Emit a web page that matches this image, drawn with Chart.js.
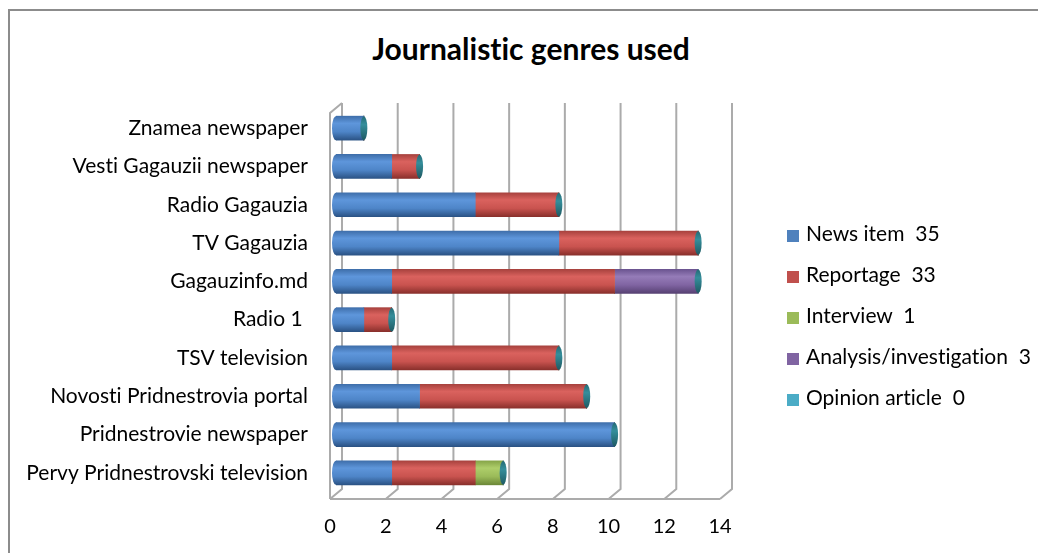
<!DOCTYPE html>
<html lang="en">
<head>
    <meta charset="UTF-8">
    <title>Journalistic genres used</title>
    <script src="https://cdn.jsdelivr.net/npm/chart.js"></script>
    <style>
        body { margin: 0; background: #fff; }
        #wrap { position: relative; width: 1038px; height: 553px; overflow: hidden; font-family: Lato, "Open Sans", sans-serif; font-variant-ligatures: none; }
        #frame { position: absolute; left: 8px; top: 9px; width: 1100px; height: 600px; border-left: 2px solid #8c8c8c; border-top: 2px solid #8c8c8c; }
        #title { position: absolute; left: 281px; width: 500px; top: 28px; text-align: center; font-weight: bold; font-size: 30px; line-height: 40px; color: #000; }
        #chart { position: absolute; left: 0; top: 0; }
        #legend { position: absolute; left: 787px; top: 212px; margin: 0; padding: 0; list-style: none; }
        #legend li { height: 41px; line-height: 41px; font-size: 21px; white-space: pre; color: #000; }
        #legend span { display: inline-block; width: 12px; height: 12px; margin-right: 7px; vertical-align: -1px; }
    </style>
</head>
<body>
    <div id="wrap">
        <div id="frame"></div>
        <div id="title">Journalistic genres used</div>
        <canvas id="chart" width="1038" height="553"></canvas>
        <ul id="legend"></ul>
    </div>
<script>
    const CATEGORIES = [
        'Znamea newspaper',
        'Vesti Gagauzii newspaper',
        'Radio Gagauzia',
        'TV Gagauzia',
        'Gagauzinfo.md',
        'Radio 1 ',
        'TSV television',
        'Novosti Pridnestrovia portal',
        'Pridnestrovie newspaper',
        'Pervy Pridnestrovski television'
    ];

    const NEWS_ITEM = [1, 2, 5, 8, 2, 1, 2, 3, 10, 2];
    const REPORTAGE = [0, 1, 3, 5, 8, 1, 6, 6, 0, 3];
    const INTERVIEW = [0, 0, 0, 0, 0, 0, 0, 0, 0, 1];
    const ANALYSIS = [0, 0, 0, 0, 3, 0, 0, 0, 0, 0];
    const OPINION = [0, 0, 0, 0, 0, 0, 0, 0, 0, 0];

    const SERIES_LABELS = ['News item  35', 'Reportage  33', 'Interview  1', 'Analysis/investigation  3', 'Opinion article  0'];
    const X_TICKS = [0, 2, 4, 6, 8, 10, 12, 14];

    const COULEURS = ['#4F81BD', '#C0504D', '#9BBB59', '#8064A2', '#4BACC6'];
    // top edge, highlight, body, bottom edge - fake cylinder shading
    const SHADES = [
        ['#3F6FAB', '#5E96DB', '#4E85C8', '#2B5385'],
        ['#A8423E', '#DA625E', '#C9534F', '#8A302C'],
        ['#86A548', '#AECE6A', '#9BBB59', '#6C8838'],
        ['#6B5490', '#957CB8', '#8064A2', '#574173'],
        ['#3C9AB3', '#62C0D8', '#4BACC6', '#2C7A8E']
    ];

    const BAR_H = 24;
    const FONT = 'Lato, "Open Sans", sans-serif';

    function cylindre(i) {
        return function (c) {
            const chart = c.chart;
            if (c.dataIndex === undefined || !chart.scales.y) return COULEURS[i];
            const yc = chart.scales.y.getPixelForValue(c.dataIndex);
            if (!isFinite(yc)) return COULEURS[i];
            const g = chart.ctx.createLinearGradient(0, yc - BAR_H / 2, 0, yc + BAR_H / 2);
            g.addColorStop(0, SHADES[i][0]);
            g.addColorStop(0.3, SHADES[i][1]);
            g.addColorStop(0.65, SHADES[i][2]);
            g.addColorStop(1, SHADES[i][3]);
            return g;
        };
    }

    // 3D walls and grid lines (Excel style)
    const grille3d = {
        id: 'grille3d',
        beforeDraw(chart) {
            // no "ti" ligatures from Lato on the canvas
            chart.ctx.textRendering = 'optimizeSpeed';
        },
        beforeDatasetsDraw(chart) {
            const ctx = chart.ctx;
            const ca = chart.chartArea;
            const x = chart.scales.x;
            const frontY = ca.bottom + 7, backY = ca.bottom - 3;
            const backTop = ca.top - 6, frontTop = ca.top + 4;
            ctx.save();
            ctx.strokeStyle = '#ababab';
            ctx.lineWidth = 2;
            ctx.beginPath();
            X_TICKS.forEach(v => {
                const px = x.getPixelForValue(v);
                ctx.moveTo(px + 6, backTop);
                ctx.lineTo(px + 6, backY);
                ctx.lineTo(px - 6, frontY);
            });
            const x0 = x.getPixelForValue(0), x14 = x.getPixelForValue(14);
            ctx.moveTo(x0 - 6, frontY);
            ctx.lineTo(x14 - 6, frontY);
            ctx.moveTo(x0 - 6, frontY);
            ctx.lineTo(x0 - 6, frontTop);
            ctx.lineTo(x0 + 6, backTop);
            ctx.stroke();
            ctx.restore();
        },
        afterDatasetsDraw(chart) {
            const ctx = chart.ctx;
            const metas = chart.data.datasets.map((d, i) => chart.getDatasetMeta(i));
            ctx.save();
            CATEGORIES.forEach((cat, j) => {
                // rounded start of the bar
                const first = metas[0].data[j];
                if (first) {
                    ctx.fillStyle = cylindre(0)({ chart: chart, dataIndex: j });
                    ctx.beginPath();
                    ctx.ellipse(first.base, first.y, 4, BAR_H / 2, 0, 0, Math.PI * 2);
                    ctx.fill();
                }
                // teal end cap on last segment
                let last = null;
                chart.data.datasets.forEach((d, i) => { if (d.data[j] > 0) last = metas[i].data[j]; });
                if (!last) return;
                const g = ctx.createLinearGradient(0, last.y - BAR_H / 2, 0, last.y + BAR_H / 2);
                g.addColorStop(0, '#246A75');
                g.addColorStop(0.35, '#358E9B');
                g.addColorStop(1, '#1E5A63');
                ctx.fillStyle = g;
                ctx.beginPath();
                ctx.ellipse(last.x, last.y, 3.5, BAR_H / 2, 0, 0, Math.PI * 2);
                ctx.fill();
            });
            ctx.restore();
        }
    };

    const SERIES = [NEWS_ITEM, REPORTAGE, INTERVIEW, ANALYSIS, OPINION];

    let ctx = document.getElementById('chart');

    let chart = new Chart(ctx, {
        type: 'bar',
        data: {
            labels: CATEGORIES,
            datasets: SERIES.map((data, i) => ({
                label: SERIES_LABELS[i],
                data: data,
                backgroundColor: cylindre(i),
                borderWidth: 0,
                barThickness: BAR_H
            }))
        },
        options: {
            indexAxis: 'y',
            responsive: false,
            animation: false,
            events: [],
            layout: { padding: { top: 109, right: 312, left: 0, bottom: 0 } },
            plugins: {
                legend: { display: false },
                title: { display: false },
                tooltip: { enabled: false }
            },
            scales: {
                x: {
                    stacked: true,
                    min: 0,
                    max: 14,
                    grid: { display: false, drawTicks: false },
                    border: { display: false },
                    afterFit: s => { s.height = 61; },
                    afterBuildTicks: s => { s.ticks = X_TICKS.map(v => ({ value: v })); },
                    ticks: { color: '#000', padding: 23, labelOffset: -6, font: { family: FONT, size: 20 } }
                },
                y: {
                    stacked: true,
                    grid: { display: false, drawTicks: false },
                    border: { display: false },
                    afterFit: s => { s.width = 336; },
                    ticks: { color: '#000', padding: 28, font: { family: FONT, size: 21 } }
                }
            }
        },
        plugins: [grille3d]
    });

    // legend as html
    const legende = document.getElementById('legend');
    SERIES_LABELS.forEach((txt, i) => {
        const li = document.createElement('li');
        const box = document.createElement('span');
        box.style.background = COULEURS[i];
        li.appendChild(box);
        li.appendChild(document.createTextNode(txt));
        legende.appendChild(li);
    });
</script>
</body>
</html>
